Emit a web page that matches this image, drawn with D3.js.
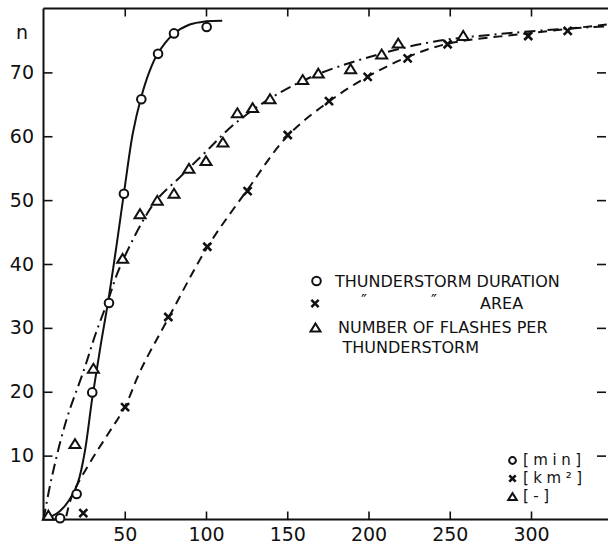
<!DOCTYPE html>
<html>
<head>
<meta charset="utf-8">
<script src="https://cdn.jsdelivr.net/npm/d3@7"></script>
<style>
  html, body { margin: 0; padding: 0; background: #fff; }
  svg { display: block; }
  text { font-family: "DejaVu Sans", sans-serif; fill: #111; }
</style>
</head>
<body>
<svg id="chart" width="608" height="544"></svg>
<script>
// Observed points: cumulative count n against duration [min], area [km2], flashes [-]
const durationPts = [[10.2,0.2],[20.4,4.0],[30,19.9],[40.3,33.9],[49.5,51],[60.2,65.8],[70.5,72.9],[80.3,76.1],[100.4,77.1]];
const areaPts = [[24.5,1.0],[50.2,17.6],[76.8,31.7],[100.8,42.7],[125.6,51.4],[150.3,60.2],[175.7,65.5],[199.5,69.3],[224.1,72.2],[248.7,74.4],[298.3,75.7],[322.6,76.5]];
const flashPts = [[3,0.6],[19.4,11.8],[30.7,23.6],[48.7,40.8],[59.4,47.8],[70,49.9],[80.3,51],[89.5,54.9],[100,56.1],[110.4,59],[119.3,63.6],[128.7,64.4],[139.4,65.8],[159.5,68.8],[169.1,69.8],[189,70.5],[208.1,72.8],[218.3,74.5],[258.3,75.7]];

// Hand-drawn fitted curves, traced as node points
const durationCurve = [[0,0],[10,1.3],[20,5],[25,10],[30,19],[35,27],[40,34.5],[45,43],[50,52],[55,60.5],[60,66],[65,70],[70,72.8],[80,76],[90,77.5],[100,78],[110,78.1]];
const flashCurve = [[0,0],[5,6.5],[14,15.5],[25,23.5],[32,29],[40,34.5],[47,39.5],[68,49.5],[84,53.6],[100,57.6],[117,61.8],[140,66],[165,69.3],[199,72.3],[240,74.8],[289,76.2],[345,77.2]];
const areaCurve = [[14,0.5],[18,4],[30,9.5],[40,13.5],[50,17.6],[60,23.5],[77,31.6],[101,42.7],[126,51.8],[150,60],[176,65.5],[200,69.4],[224,72.4],[249,74.5],[298,76.1],[347,77.5]];

// Axis ticks
const xTicks = [50,100,150,200,250,300];
const yTicks = [10,20,30,40,50,60,70];

const legendRows = ["THUNDERSTORM DURATION", "AREA", "NUMBER OF FLASHES PER", "THUNDERSTORM"];
const unitLabels = ["[min]", "[km\u00B2]", "[-]"];

const svg = d3.select("#chart");
const ink = "#111";

const x = d3.scaleLinear().domain([0, 350]).range([43.5, 612.25]);
const y = d3.scaleLinear().domain([0, 80]).range([519.5, 8.5]);

// Frame lines (left, top, bottom)
svg.append("path")
  .attr("d", `M${x(0)},${y(0)}V${y(80)}`)
  .attr("stroke", ink).attr("stroke-width", 2).attr("fill", "none");
svg.append("path")
  .attr("d", `M${x(0)},${y(80)}H${x(350)}`)
  .attr("stroke", ink).attr("stroke-width", 2).attr("fill", "none");
svg.append("path")
  .attr("d", `M${x(0)},${y(0)}H${x(350)}`)
  .attr("stroke", ink).attr("stroke-width", 2).attr("fill", "none");

function styleAxis(g) {
  g.select(".domain").remove();
  g.selectAll(".tick line").attr("stroke", ink).attr("stroke-width", 1.6);
  g.selectAll(".tick text").attr("fill", ink).style("font-size", "19px")
    .style("font-family", "DejaVu Sans, sans-serif");
}

svg.append("g").attr("transform", `translate(0,${y(0)})`)
  .call(d3.axisBottom(x).tickValues(xTicks).tickSize(-8).tickPadding(8.5))
  .call(styleAxis);
svg.append("g").attr("transform", `translate(0,${y(80)})`)
  .call(d3.axisTop(x).tickValues(xTicks).tickSize(-8).tickFormat(""))
  .call(styleAxis);
svg.append("g").attr("transform", `translate(${x(0)},0)`)
  .call(d3.axisLeft(y).tickValues(yTicks).tickSize(-9).tickPadding(9.5))
  .call(styleAxis);
svg.append("g").attr("transform", `translate(606,0)`)
  .call(d3.axisRight(y).tickValues(yTicks).tickSize(-9).tickFormat(""))
  .call(styleAxis);

svg.append("text").attr("x", 22).attr("y", 39).attr("text-anchor", "middle")
  .style("font-size", "19px").text("n");

// Curves
const line = d3.line().x(d => x(d[0])).y(d => y(d[1])).curve(d3.curveCatmullRom.alpha(0.5));
svg.append("path").datum(durationCurve).attr("d", line)
  .attr("fill", "none").attr("stroke", ink).attr("stroke-width", 2);
svg.append("path").datum(flashCurve).attr("d", line)
  .attr("fill", "none").attr("stroke", ink).attr("stroke-width", 2)
  .attr("stroke-dasharray", "11,5,2,5");
svg.append("path").datum(areaCurve).attr("d", line)
  .attr("fill", "none").attr("stroke", ink).attr("stroke-width", 2)
  .attr("stroke-dasharray", "9,6");

// Marker drawers
function drawCircle(g, cx, cy, r) {
  g.append("circle").attr("cx", cx).attr("cy", cy).attr("r", r)
    .attr("fill", "#fff").attr("stroke", ink).attr("stroke-width", 2);
}
function drawCross(g, cx, cy, s) {
  g.append("path").attr("d", `M${cx-s},${cy-s}L${cx+s},${cy+s}M${cx-s},${cy+s}L${cx+s},${cy-s}`)
    .attr("stroke", ink).attr("stroke-width", 2.6).attr("fill", "none");
}
function drawTri(g, cx, cy, s) {
  const h = s * 0.9;
  g.append("path").attr("d", `M${cx},${cy-h}L${cx+s},${cy+h*0.8}L${cx-s},${cy+h*0.8}Z`)
    .attr("fill", "#fff").attr("stroke", ink).attr("stroke-width", 2).attr("stroke-linejoin", "miter");
}

const marks = svg.append("g");
flashPts.forEach(d => drawTri(marks, x(d[0]), y(d[1]), 5.5));
areaPts.forEach(d => drawCross(marks, x(d[0]), y(d[1]), 4));
durationPts.forEach(d => drawCircle(marks, x(d[0]), y(d[1]), 4.3));

// Legend
const leg = svg.append("g");
const legY = [281, 303.5, 327.5, 347.5];
drawCircle(leg, 316.5, legY[0], 4.3);
drawCross(leg, 315, legY[1], 3.6);
drawTri(leg, 315.5, legY[2] + 0.5, 5);
const legText = (tx, ty, s) => leg.append("text").attr("x", tx).attr("y", ty)
  .attr("dy", "0.36em").style("font-size", "16px").text(s);
legText(335, legY[0], legendRows[0]);
legText(361, legY[1] - 3, "\u2033");
legText(431, legY[1] - 3, "\u2033");
legText(480, legY[1], legendRows[1]);
legText(338, legY[2], legendRows[2]);
legText(342.5, legY[3], legendRows[3]);

// Unit key
const units = svg.append("g");
const uY = [459.5, 477.5, 496];
drawCircle(units, 512.5, uY[0] + 1, 3.4);
drawCross(units, 512.5, uY[1] + 1, 3.2);
drawTri(units, 512.5, uY[2] + 1, 4.3);
unitLabels.forEach((s, i) => {
  units.append("text").attr("x", 523).attr("y", uY[i]).attr("dy", "0.36em")
    .style("font-size", "15px").style("letter-spacing", "4.5px").text(s);
});
</script>
</body>
</html>
